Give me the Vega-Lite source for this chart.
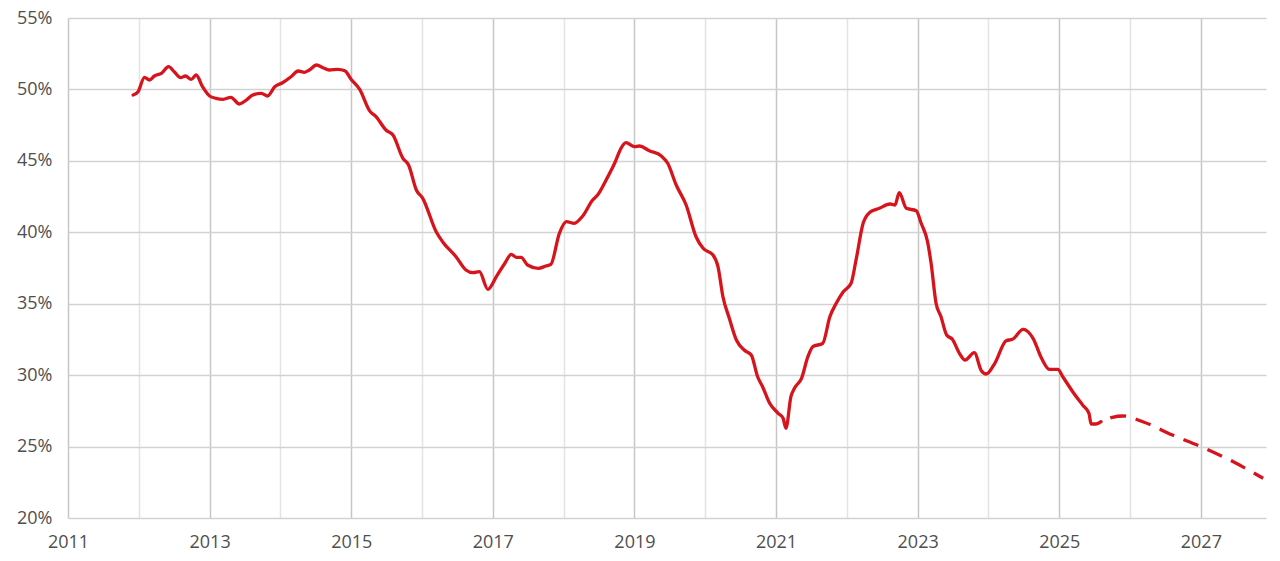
{
  "$schema": "https://vega.github.io/schema/vega-lite/v6.json",
  "width": 1198,
  "height": 500,
  "autosize": "none",
  "padding": {"left": 68, "top": 18, "right": 14, "bottom": 43},
  "background": "white",
  "config": {
    "view": {"stroke": null},
    "axis": {"labelFont": "Open Sans", "labelFontSize": 18, "labelColor": "#4f4f4f", "domain": false, "ticks": false, "tickSize": 0, "title": null}
  },
  "data": {"values": [
    {"year": 2011.92, "value": 49.61, "kind": "actual"},
    {"year": 2011.99, "value": 49.84, "kind": "actual"},
    {"year": 2012.08, "value": 50.85, "kind": "actual"},
    {"year": 2012.15, "value": 50.66, "kind": "actual"},
    {"year": 2012.22, "value": 50.94, "kind": "actual"},
    {"year": 2012.32, "value": 51.13, "kind": "actual"},
    {"year": 2012.42, "value": 51.59, "kind": "actual"},
    {"year": 2012.50, "value": 51.24, "kind": "actual"},
    {"year": 2012.59, "value": 50.82, "kind": "actual"},
    {"year": 2012.66, "value": 50.94, "kind": "actual"},
    {"year": 2012.74, "value": 50.71, "kind": "actual"},
    {"year": 2012.81, "value": 51.01, "kind": "actual"},
    {"year": 2012.90, "value": 50.19, "kind": "actual"},
    {"year": 2013.00, "value": 49.54, "kind": "actual"},
    {"year": 2013.09, "value": 49.38, "kind": "actual"},
    {"year": 2013.19, "value": 49.31, "kind": "actual"},
    {"year": 2013.30, "value": 49.45, "kind": "actual"},
    {"year": 2013.42, "value": 48.98, "kind": "actual"},
    {"year": 2013.52, "value": 49.26, "kind": "actual"},
    {"year": 2013.61, "value": 49.61, "kind": "actual"},
    {"year": 2013.73, "value": 49.73, "kind": "actual"},
    {"year": 2013.82, "value": 49.54, "kind": "actual"},
    {"year": 2013.92, "value": 50.19, "kind": "actual"},
    {"year": 2014.03, "value": 50.47, "kind": "actual"},
    {"year": 2014.15, "value": 50.89, "kind": "actual"},
    {"year": 2014.25, "value": 51.29, "kind": "actual"},
    {"year": 2014.34, "value": 51.20, "kind": "actual"},
    {"year": 2014.41, "value": 51.36, "kind": "actual"},
    {"year": 2014.51, "value": 51.71, "kind": "actual"},
    {"year": 2014.60, "value": 51.52, "kind": "actual"},
    {"year": 2014.69, "value": 51.36, "kind": "actual"},
    {"year": 2014.81, "value": 51.41, "kind": "actual"},
    {"year": 2014.91, "value": 51.31, "kind": "actual"},
    {"year": 2015.00, "value": 50.70, "kind": "actual"},
    {"year": 2015.12, "value": 50.00, "kind": "actual"},
    {"year": 2015.26, "value": 48.50, "kind": "actual"},
    {"year": 2015.35, "value": 48.10, "kind": "actual"},
    {"year": 2015.49, "value": 47.16, "kind": "actual"},
    {"year": 2015.59, "value": 46.81, "kind": "actual"},
    {"year": 2015.73, "value": 45.18, "kind": "actual"},
    {"year": 2015.81, "value": 44.71, "kind": "actual"},
    {"year": 2015.92, "value": 42.96, "kind": "actual"},
    {"year": 2016.01, "value": 42.38, "kind": "actual"},
    {"year": 2016.20, "value": 40.04, "kind": "actual"},
    {"year": 2016.29, "value": 39.34, "kind": "actual"},
    {"year": 2016.48, "value": 38.29, "kind": "actual"},
    {"year": 2016.62, "value": 37.36, "kind": "actual"},
    {"year": 2016.72, "value": 37.17, "kind": "actual"},
    {"year": 2016.81, "value": 37.24, "kind": "actual"},
    {"year": 2016.93, "value": 36.01, "kind": "actual"},
    {"year": 2017.05, "value": 36.90, "kind": "actual"},
    {"year": 2017.17, "value": 37.83, "kind": "actual"},
    {"year": 2017.26, "value": 38.45, "kind": "actual"},
    {"year": 2017.33, "value": 38.25, "kind": "actual"},
    {"year": 2017.40, "value": 38.25, "kind": "actual"},
    {"year": 2017.49, "value": 37.71, "kind": "actual"},
    {"year": 2017.64, "value": 37.48, "kind": "actual"},
    {"year": 2017.75, "value": 37.64, "kind": "actual"},
    {"year": 2017.82, "value": 37.76, "kind": "actual"},
    {"year": 2017.94, "value": 39.93, "kind": "actual"},
    {"year": 2018.04, "value": 40.74, "kind": "actual"},
    {"year": 2018.15, "value": 40.63, "kind": "actual"},
    {"year": 2018.27, "value": 41.14, "kind": "actual"},
    {"year": 2018.41, "value": 42.26, "kind": "actual"},
    {"year": 2018.48, "value": 42.61, "kind": "actual"},
    {"year": 2018.60, "value": 43.66, "kind": "actual"},
    {"year": 2018.72, "value": 44.83, "kind": "actual"},
    {"year": 2018.81, "value": 45.88, "kind": "actual"},
    {"year": 2018.88, "value": 46.27, "kind": "actual"},
    {"year": 2019.00, "value": 45.99, "kind": "actual"},
    {"year": 2019.07, "value": 46.04, "kind": "actual"},
    {"year": 2019.21, "value": 45.71, "kind": "actual"},
    {"year": 2019.38, "value": 45.34, "kind": "actual"},
    {"year": 2019.47, "value": 44.83, "kind": "actual"},
    {"year": 2019.59, "value": 43.31, "kind": "actual"},
    {"year": 2019.73, "value": 41.91, "kind": "actual"},
    {"year": 2019.87, "value": 39.69, "kind": "actual"},
    {"year": 2019.97, "value": 38.88, "kind": "actual"},
    {"year": 2020.11, "value": 38.41, "kind": "actual"},
    {"year": 2020.18, "value": 37.59, "kind": "actual"},
    {"year": 2020.25, "value": 35.49, "kind": "actual"},
    {"year": 2020.34, "value": 33.98, "kind": "actual"},
    {"year": 2020.44, "value": 32.46, "kind": "actual"},
    {"year": 2020.55, "value": 31.76, "kind": "actual"},
    {"year": 2020.65, "value": 31.41, "kind": "actual"},
    {"year": 2020.74, "value": 29.89, "kind": "actual"},
    {"year": 2020.81, "value": 29.19, "kind": "actual"},
    {"year": 2020.91, "value": 28.03, "kind": "actual"},
    {"year": 2021.03, "value": 27.33, "kind": "actual"},
    {"year": 2021.10, "value": 26.98, "kind": "actual"},
    {"year": 2021.14, "value": 26.28, "kind": "actual"},
    {"year": 2021.21, "value": 28.49, "kind": "actual"},
    {"year": 2021.26, "value": 29.08, "kind": "actual"},
    {"year": 2021.36, "value": 29.78, "kind": "actual"},
    {"year": 2021.45, "value": 31.29, "kind": "actual"},
    {"year": 2021.52, "value": 31.99, "kind": "actual"},
    {"year": 2021.66, "value": 32.23, "kind": "actual"},
    {"year": 2021.76, "value": 34.09, "kind": "actual"},
    {"year": 2021.85, "value": 35.03, "kind": "actual"},
    {"year": 2021.95, "value": 35.84, "kind": "actual"},
    {"year": 2022.06, "value": 36.43, "kind": "actual"},
    {"year": 2022.13, "value": 38.06, "kind": "actual"},
    {"year": 2022.23, "value": 40.63, "kind": "actual"},
    {"year": 2022.32, "value": 41.38, "kind": "actual"},
    {"year": 2022.46, "value": 41.68, "kind": "actual"},
    {"year": 2022.61, "value": 41.98, "kind": "actual"},
    {"year": 2022.68, "value": 41.91, "kind": "actual"},
    {"year": 2022.74, "value": 42.77, "kind": "actual"},
    {"year": 2022.84, "value": 41.68, "kind": "actual"},
    {"year": 2022.98, "value": 41.51, "kind": "actual"},
    {"year": 2023.05, "value": 40.63, "kind": "actual"},
    {"year": 2023.14, "value": 39.34, "kind": "actual"},
    {"year": 2023.19, "value": 37.83, "kind": "actual"},
    {"year": 2023.26, "value": 35.03, "kind": "actual"},
    {"year": 2023.33, "value": 34.09, "kind": "actual"},
    {"year": 2023.41, "value": 32.81, "kind": "actual"},
    {"year": 2023.49, "value": 32.51, "kind": "actual"},
    {"year": 2023.59, "value": 31.53, "kind": "actual"},
    {"year": 2023.67, "value": 31.06, "kind": "actual"},
    {"year": 2023.80, "value": 31.57, "kind": "actual"},
    {"year": 2023.90, "value": 30.31, "kind": "actual"},
    {"year": 2023.97, "value": 30.08, "kind": "actual"},
    {"year": 2024.09, "value": 30.83, "kind": "actual"},
    {"year": 2024.25, "value": 32.41, "kind": "actual"},
    {"year": 2024.34, "value": 32.51, "kind": "actual"},
    {"year": 2024.49, "value": 33.21, "kind": "actual"},
    {"year": 2024.63, "value": 32.58, "kind": "actual"},
    {"year": 2024.75, "value": 31.18, "kind": "actual"},
    {"year": 2024.86, "value": 30.41, "kind": "actual"},
    {"year": 2024.98, "value": 30.41, "kind": "actual"},
    {"year": 2025.05, "value": 29.89, "kind": "actual"},
    {"year": 2025.19, "value": 28.84, "kind": "actual"},
    {"year": 2025.33, "value": 27.91, "kind": "actual"},
    {"year": 2025.42, "value": 27.33, "kind": "actual"},
    {"year": 2025.45, "value": 26.58, "kind": "actual"},
    {"year": 2025.52, "value": 26.58, "kind": "actual"},
    {"year": 2025.59, "value": 26.74, "kind": "actual"},
    {"year": 2025.59, "value": 26.74, "kind": "forecast"},
    {"year": 2025.75, "value": 27.05, "kind": "forecast"},
    {"year": 2025.90, "value": 27.14, "kind": "forecast"},
    {"year": 2026.18, "value": 26.74, "kind": "forecast"},
    {"year": 2026.60, "value": 25.81, "kind": "forecast"},
    {"year": 2027.00, "value": 25.00, "kind": "forecast"},
    {"year": 2027.36, "value": 24.18, "kind": "forecast"},
    {"year": 2027.88, "value": 22.78, "kind": "forecast"}
  ]},
  "encoding": {
    "x": {
      "field": "year", "type": "quantitative",
      "scale": {"domain": [2011, 2027.92], "nice": false, "zero": false},
      "axis": {
        "values": [2011, 2012, 2013, 2014, 2015, 2016, 2017, 2018, 2019, 2020, 2021, 2022, 2023, 2024, 2025, 2026, 2027],
        "labelExpr": "datum.value % 2 == 1 ? '' + datum.value : ''",
        "labelPadding": 15,
        "gridWidth": 1.5,
        "gridColor": {"condition": {"test": "datum.value % 2 == 1", "value": "#c6c6c6"}, "value": "#e3e3e3"},
        "labelFlush": false,
        "labelOverlap": false
      }
    },
    "y": {
      "field": "value", "type": "quantitative",
      "scale": {"domain": [20, 55], "nice": false, "zero": false},
      "axis": {
        "values": [20, 25, 30, 35, 40, 45, 50, 55],
        "labelExpr": "datum.value + '%'",
        "labelPadding": 16,
        "gridWidth": 1.5,
        "gridColor": "#d2d2d2"
      }
    }
  },
  "layer": [
    {
      "transform": [{"filter": "datum.kind == 'actual'"}],
      "mark": {"type": "line", "color": "#d7141c", "strokeWidth": 3.3, "interpolate": "monotone", "strokeCap": "round"}
    },
    {
      "transform": [{"filter": "datum.kind == 'forecast'"}],
      "mark": {"type": "line", "color": "#d7141c", "strokeWidth": 3.3, "interpolate": "monotone", "strokeDash": [16, 10], "strokeDashOffset": 16}
    }
  ]
}
